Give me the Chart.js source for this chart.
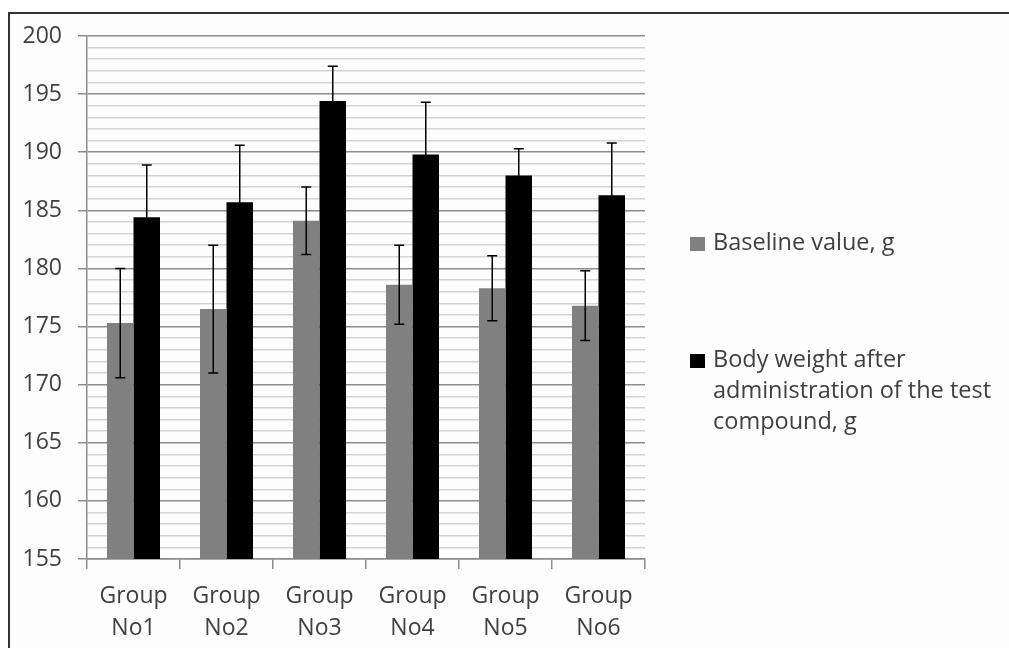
<!DOCTYPE html>
<html>
<head>
<meta charset="utf-8">
<script src="https://cdn.jsdelivr.net/npm/chart.js@4/dist/chart.umd.min.js"></script>
<style>
  html, body { margin: 0; padding: 0; background: #fff; overflow: hidden; }
  body { width: 1009px; height: 648px; position: relative; font-family: "Open Sans", sans-serif; }
  #frame { position: absolute; left: 8px; top: 12px; width: 1100px; height: 700px; border: 2px solid #333; background: #fdfdfd; }
  #chart { position: absolute; left: 0; top: 0; }
  .legend-item { position: absolute; left: 690px; width: 318px; font-size: 23.5px; line-height: 31px; color: #404040; }
  .legend-item .box { position: absolute; left: 0; width: 15px; height: 14px; }
  .legend-item .txt { margin-left: 23px; width: 295px; }
</style>
</head>
<body>
<div id="frame"></div>
<canvas id="chart" width="1009" height="648"></canvas>
<div id="legend"></div>
<script>
// categories and series
const groups = [['Group', 'No1'], ['Group', 'No2'], ['Group', 'No3'], ['Group', 'No4'], ['Group', 'No5'], ['Group', 'No6']];
const seriesNames = ['Baseline value, g', 'Body weight after administration of the test compound, g'];
const baseline = [175.3, 176.5, 184.1, 178.6, 178.3, 176.8];
const baselineErr = [4.7, 5.5, 2.9, 3.4, 2.8, 3.0];
const afterDose = [184.4, 185.7, 194.4, 189.8, 188.0, 186.3];
const afterDoseErr = [4.5, 4.9, 3.0, 4.5, 2.3, 4.5];
const seriesColors = ['#808080', '#000000'];

const errorBars = {
  id: 'errorBars',
  afterDatasetsDraw(chart) {
    const ctx = chart.ctx;
    const y = chart.scales.y;
    ctx.save();
    ctx.strokeStyle = '#000';
    ctx.lineWidth = 1.5;
    chart.data.datasets.forEach((ds, i) => {
      const meta = chart.getDatasetMeta(i);
      meta.data.forEach((bar, j) => {
        const v = ds.data[j], e = ds.errors[j];
        const top = y.getPixelForValue(v + e);
        const bot = y.getPixelForValue(v - e);
        ctx.beginPath();
        ctx.moveTo(bar.x, top); ctx.lineTo(bar.x, bot);
        ctx.moveTo(bar.x - 5, top); ctx.lineTo(bar.x + 5, top);
        ctx.moveTo(bar.x - 5, bot); ctx.lineTo(bar.x + 5, bot);
        ctx.stroke();
      });
    });
    ctx.restore();
  }
};

const chart = new Chart(document.getElementById('chart'), {
  type: 'bar',
  data: {
    labels: groups,
    datasets: [
      { label: seriesNames[0], data: baseline, errors: baselineErr, backgroundColor: seriesColors[0] },
      { label: seriesNames[1], data: afterDose, errors: afterDoseErr, backgroundColor: seriesColors[1] }
    ]
  },
  options: {
    responsive: false,
    animation: false,
    layout: { padding: { left: 0, top: 36, right: 364, bottom: 0 } },
    datasets: { bar: { categoryPercentage: 0.57, barPercentage: 1 } },
    plugins: { legend: { display: false }, tooltip: { enabled: false } },
    scales: {
      x: {
        afterFit: s => { s.height = 89; },
        grid: { offset: true, drawOnChartArea: false, tickLength: 10, color: '#8c8c8c', lineWidth: 1.5 },
        border: { color: '#8c8c8c', width: 1.5 },
        ticks: { color: '#404040', font: { family: 'Open Sans', size: 23, lineHeight: 1.4 }, padding: 11, maxRotation: 0 }
      },
      y: {
        min: 155, max: 200,
        afterFit: s => { s.width = 87; },
        grid: {
          color: c => (c.tick.value % 5 === 0 ? '#8c8c8c' : '#d4d4d4'),
          tickColor: c => (c.tick.value % 5 === 0 ? '#8c8c8c' : 'rgba(0,0,0,0)'),
          lineWidth: 1.5,
          tickLength: 9
        },
        border: { color: '#8c8c8c', width: 1.5 },
        ticks: {
          stepSize: 1,
          autoSkip: false,
          padding: 16,
          color: '#404040',
          font: { family: 'Open Sans', size: 23 },
          callback: v => (v % 5 === 0 ? v : '')
        }
      }
    }
  },
  plugins: [errorBars]
});

// legend as html text, wrapped like the original
const legend = document.getElementById('legend');
const legendTops = [226, 343];
chart.data.datasets.forEach((ds, i) => {
  const item = document.createElement('div');
  item.className = 'legend-item';
  item.style.top = legendTops[i] + 'px';
  item.innerHTML = `<div class="box" style="top:11px;background:${ds.backgroundColor}"></div><div class="txt">${ds.label}</div>`;
  legend.appendChild(item);
});
</script>
</body>
</html>
